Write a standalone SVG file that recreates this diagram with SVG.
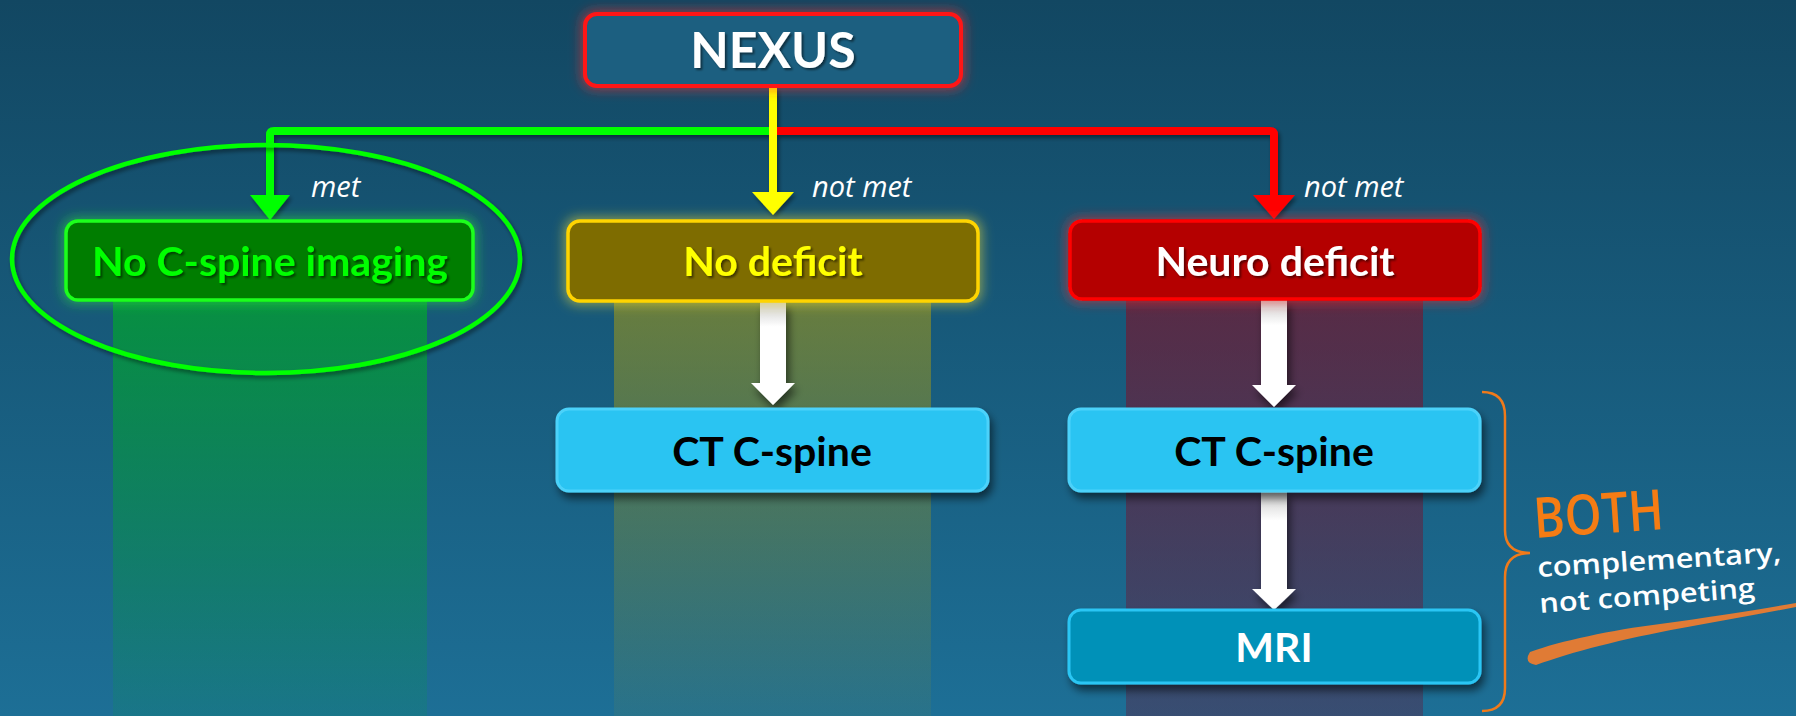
<svg xmlns="http://www.w3.org/2000/svg" width="1796" height="716" viewBox="0 0 1796 716">
<defs>
<style>
.lbl{font-family:Lato,"Open Sans",sans-serif;font-weight:700;font-size:41px;text-anchor:middle}
.cond{font-family:"Open Sans",Lato,sans-serif;font-style:italic;font-size:29px;fill:#ffffff}
.hand{font-family:"Open Sans","Noto Sans",sans-serif;font-weight:600}
.conn{fill:none;stroke-width:8;stroke-linejoin:round}
.wa{fill:#ffffff}
</style>
<linearGradient id="bg" x1="0" y1="0" x2="0" y2="1">
<stop offset="0" stop-color="#124762"/>
<stop offset="1" stop-color="#1d6f96"/>
</linearGradient>
<linearGradient id="colG" x1="0" y1="0" x2="0" y2="1">
<stop offset="0" stop-color="#00a82a" stop-opacity="0.75"/>
<stop offset="1" stop-color="#00a82a" stop-opacity="0.12"/>
</linearGradient>
<linearGradient id="colY" x1="0" y1="0" x2="0" y2="1">
<stop offset="0" stop-color="#a99b10" stop-opacity="0.6"/>
<stop offset="1" stop-color="#a99b10" stop-opacity="0.08"/>
</linearGradient>
<linearGradient id="colR" x1="0" y1="0" x2="0" y2="1">
<stop offset="0" stop-color="#8a0a20" stop-opacity="0.6"/>
<stop offset="1" stop-color="#6a1030" stop-opacity="0.35"/>
</linearGradient>
<linearGradient id="shaft" x1="0" y1="0" x2="0" y2="1">
<stop offset="0" stop-color="#c8c8c8"/>
<stop offset="0.3" stop-color="#ffffff"/>
<stop offset="1" stop-color="#ffffff"/>
</linearGradient>
<filter id="sh" x="-10%" y="-20%" width="125%" height="160%">
<feGaussianBlur in="SourceAlpha" stdDeviation="4"/>
<feOffset dx="3" dy="6" result="o"/>
<feComponentTransfer><feFuncA type="linear" slope="0.55"/></feComponentTransfer>
<feMerge><feMergeNode/><feMergeNode in="SourceGraphic"/></feMerge>
</filter>
<filter id="lsh" x="-10%" y="-10%" width="125%" height="130%">
<feGaussianBlur in="SourceAlpha" stdDeviation="2"/>
<feOffset dx="2" dy="3"/>
<feComponentTransfer><feFuncA type="linear" slope="0.45"/></feComponentTransfer>
<feMerge><feMergeNode/><feMergeNode in="SourceGraphic"/></feMerge>
</filter>
<filter id="tsh" x="-10%" y="-20%" width="120%" height="150%">
<feGaussianBlur in="SourceAlpha" stdDeviation="1.2"/>
<feOffset dx="1.5" dy="2"/>
<feComponentTransfer><feFuncA type="linear" slope="0.5"/></feComponentTransfer>
<feMerge><feMergeNode/><feMergeNode in="SourceGraphic"/></feMerge>
</filter>
<filter id="gRed" x="-20%" y="-50%" width="140%" height="200%">
<feMorphology in="SourceAlpha" operator="dilate" radius="2"/>
<feGaussianBlur stdDeviation="6" result="b"/>
<feFlood flood-color="#ff2a2a" flood-opacity="0.55"/>
<feComposite in2="b" operator="in" result="g"/>
<feMerge><feMergeNode in="g"/><feMergeNode in="SourceGraphic"/></feMerge>
</filter>
<filter id="gGreen" x="-20%" y="-50%" width="140%" height="200%">
<feMorphology in="SourceAlpha" operator="dilate" radius="2"/>
<feGaussianBlur stdDeviation="6" result="b"/>
<feFlood flood-color="#30ff30" flood-opacity="0.45"/>
<feComposite in2="b" operator="in" result="g"/>
<feMerge><feMergeNode in="g"/><feMergeNode in="SourceGraphic"/></feMerge>
</filter>
<filter id="gYellow" x="-20%" y="-50%" width="140%" height="200%">
<feMorphology in="SourceAlpha" operator="dilate" radius="2"/>
<feGaussianBlur stdDeviation="6" result="b"/>
<feFlood flood-color="#ffe830" flood-opacity="0.5"/>
<feComposite in2="b" operator="in" result="g"/>
<feMerge><feMergeNode in="g"/><feMergeNode in="SourceGraphic"/></feMerge>
</filter>
</defs>

<rect x="0" y="0" width="1796" height="716" fill="url(#bg)"/>

<g id="columns">
<rect x="113" y="260" width="314" height="456" fill="url(#colG)"/>
<rect x="614" y="260" width="317" height="456" fill="url(#colY)"/>
<rect x="1126" y="260" width="297" height="456" fill="url(#colR)"/>
</g>

<g id="connectors">
<g filter="url(#lsh)">
<path class="conn" stroke="#00ff00" d="M773,131 H274 Q270,131 270,135 V198"/>
<polygon fill="#00ff00" points="250,195 290,195 270,220"/>
<path class="conn" stroke="#ff0000" d="M773,131 H1270 Q1274,131 1274,135 V198"/>
<polygon fill="#ff0000" points="1253,195 1295,195 1274,219"/>
<path class="conn" stroke="#ffff00" d="M773,87 V195"/>
<polygon fill="#ffff00" points="752,192 794,192 773,215"/>
</g>
<g filter="url(#sh)">
<rect x="760" y="302" width="26" height="82" fill="url(#shaft)"/>
<polygon class="wa" points="751,383 795,383 773,405"/>
<rect x="1261" y="299" width="26" height="87" fill="url(#shaft)"/>
<polygon class="wa" points="1252,385 1296,385 1274,407"/>
<rect x="1261" y="491" width="26" height="99" fill="url(#shaft)"/>
<polygon class="wa" points="1252,589 1296,589 1274,610"/>
</g>
<text class="cond" x="311" y="197">met</text>
<text class="cond" x="812" y="197">not met</text>
<text class="cond" x="1304" y="197">not met</text>
</g>

<g id="nexus">
<rect x="585" y="14" width="376" height="72" rx="12" fill="#1b5f80" stroke="#ff1414" stroke-width="4" filter="url(#gRed)"/>
<text class="lbl" x="773" y="68" style="font-size:50px" fill="#ffffff" filter="url(#tsh)">NEXUS</text>
</g>

<g id="no-imaging">
<rect x="66" y="221" width="407" height="79" rx="12" fill="#007d00" stroke="#1aff1a" stroke-width="3.5" filter="url(#gGreen)"/>
<text class="lbl" x="270" y="276" fill="#00ff00" filter="url(#tsh)">No C-spine imaging</text>
<ellipse cx="266" cy="259" rx="254" ry="114" fill="none" stroke="#00ff00" stroke-width="4.5" filter="url(#lsh)"/>
</g>

<g id="no-deficit">
<rect x="568" y="221" width="410" height="80" rx="12" fill="#7e6c05" stroke="#ffd400" stroke-width="3.5" filter="url(#gYellow)"/>
<text class="lbl" x="773" y="276" fill="#ffff00" filter="url(#tsh)">No deficit</text>
</g>

<g id="neuro-deficit">
<rect x="1070" y="221" width="410" height="78" rx="12" fill="#b40000" stroke="#ff0000" stroke-width="3.5" filter="url(#gRed)"/>
<text class="lbl" x="1275" y="276" fill="#ffffff" filter="url(#tsh)">Neuro deficit</text>
</g>

<g id="ct-left">
<rect x="557" y="409" width="431" height="82" rx="12" fill="#29c4f2" stroke="#4cd2fa" stroke-width="3" filter="url(#sh)"/>
<text class="lbl" x="772" y="466" fill="#000000">CT C-spine</text>
</g>

<g id="ct-right">
<rect x="1069" y="409" width="411" height="82" rx="12" fill="#29c4f2" stroke="#4cd2fa" stroke-width="3" filter="url(#sh)"/>
<text class="lbl" x="1274" y="466" fill="#000000">CT C-spine</text>
</g>

<g id="mri">
<rect x="1069" y="610" width="411" height="73" rx="12" fill="#0391b8" stroke="#2ac6f4" stroke-width="3" filter="url(#sh)"/>
<text class="lbl" x="1274" y="662" fill="#ffffff">MRI</text>
</g>

<g id="both-note">
<path d="M1482,392 Q1505,392 1505,416 L1505,530 Q1505,553 1530,553 Q1505,553 1505,577 L1505,688 Q1505,711 1482,711" fill="none" stroke="#f07a1a" stroke-width="2.5"/>
<text class="hand" x="1535" y="538" transform="rotate(-4 1535 538)" font-size="56" fill="#f57c14" textLength="130" lengthAdjust="spacingAndGlyphs">BOTH</text>
<text class="hand" x="1538" y="577" transform="rotate(-3.6 1538 577)" font-size="27" fill="#ffffff" textLength="244" lengthAdjust="spacingAndGlyphs">complementary,</text>
<text class="hand" x="1540" y="613" transform="rotate(-4.2 1540 613)" font-size="27" fill="#ffffff" textLength="216" lengthAdjust="spacingAndGlyphs">not competing</text>
<path d="M1530,652 C1560,641 1612,630 1660,624 C1712,617 1760,609 1796,603 L1796,607 C1760,614 1720,621 1682,628 C1622,639 1572,652 1536,665 Q1523,663 1530,652 Z" fill="#e07b35"/>
</g>
</svg>
